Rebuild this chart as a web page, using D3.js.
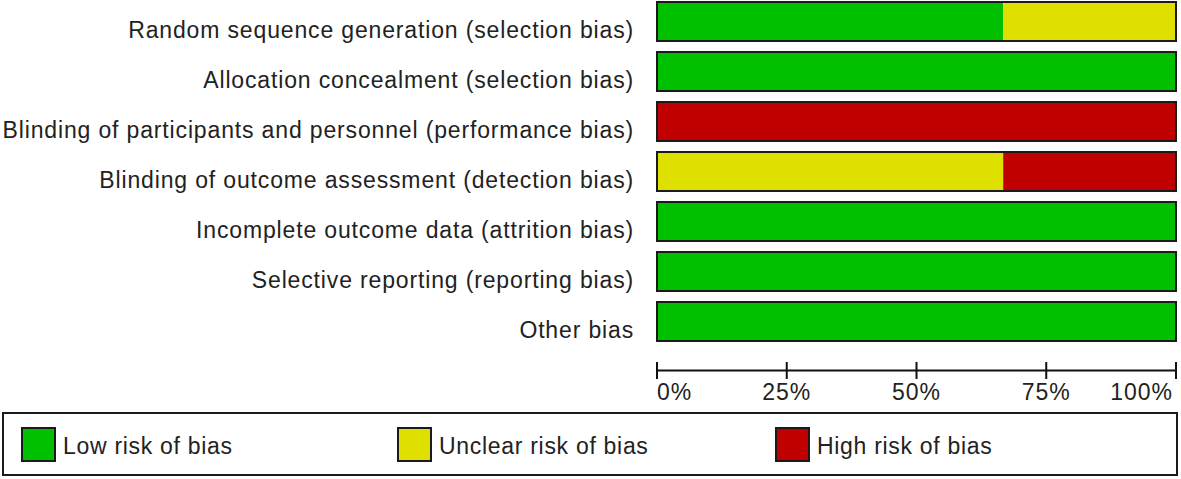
<!DOCTYPE html>
<html>
<head>
<meta charset="utf-8">
<script src="https://cdn.jsdelivr.net/npm/d3@7"></script>
<style>
  html, body { margin: 0; padding: 0; background: #fff; }
  svg { display: block; }
  text { font-family: "Liberation Sans", Arial, sans-serif; fill: #222; letter-spacing: 0.85px; }
</style>
</head>
<body>
<div id="chart"></div>
<script>
// ---- data ----
const domains = [
  "Random sequence generation (selection bias)",
  "Allocation concealment (selection bias)",
  "Blinding of participants and personnel (performance bias)",
  "Blinding of outcome assessment (detection bias)",
  "Incomplete outcome data (attrition bias)",
  "Selective reporting (reporting bias)",
  "Other bias"
];
const lowRisk     = [66.7, 100, 0, 0, 100, 100, 100];
const unclearRisk = [33.3, 0, 0, 66.7, 0, 0, 0];
const highRisk    = [0, 0, 100, 33.3, 0, 0, 0];
const riskKeys    = ["Low risk of bias", "Unclear risk of bias", "High risk of bias"];
const riskColors  = ["#00c000", "#e0e000", "#c00000"];
const tickValues  = [0, 25, 50, 75, 100];
const tickLabels  = ["0%", "25%", "50%", "75%", "100%"];

// ---- layout ----
const W = 1181, H = 479;
const svg = d3.select("#chart").append("svg").attr("width", W).attr("height", H);

const x = d3.scaleLinear().domain([0, 100]).range([657, 1176]);
const y = d3.scaleBand().domain(domains).range([2, 341]).paddingInner(0.22).paddingOuter(0);

const series = [lowRisk, unclearRisk, highRisk];
const rows = domains.map((d, i) => ({ domain: d, vals: series.map(s => s[i]) }));
const stack = d3.stack().keys([0, 1, 2]).value((r, k) => r.vals[k]);
const layers = stack(rows);

// category labels
svg.append("g").selectAll("text").data(domains).join("text")
  .attr("x", 634)
  .attr("y", d => y(d) + 36)
  .attr("text-anchor", "end")
  .attr("font-size", 23)
  .text(d => d);

// bar segments
const gBars = svg.append("g");
layers.forEach((layer, k) => {
  gBars.selectAll(null).data(layer.filter(s => s[1] - s[0] > 0)).join("rect")
    .attr("x", s => x(s[0]))
    .attr("y", s => y(s.data.domain))
    .attr("width", s => x(s[1]) - x(s[0]))
    .attr("height", y.bandwidth())
    .attr("fill", riskColors[k]);
});
// outlines
gBars.selectAll("rect.outline").data(domains).join("rect")
  .attr("class", "outline")
  .attr("x", x(0)).attr("y", d => y(d))
  .attr("width", x(100) - x(0)).attr("height", y.bandwidth())
  .attr("fill", "none").attr("stroke", "#1a1a1a").attr("stroke-width", 2);

// axis
const axisY = 370;
const gAxis = svg.append("g").attr("transform", `translate(0,${axisY})`);
gAxis.call(d3.axisBottom(x).tickValues(tickValues).tickSize(0).tickFormat(""));
gAxis.select(".domain").attr("stroke", "#111").attr("stroke-width", 2);
gAxis.selectAll(".tick").remove();
gAxis.selectAll("line.t").data(tickValues).join("line")
  .attr("class", "t")
  .attr("x1", d => x(d)).attr("x2", d => x(d))
  .attr("y1", -8).attr("y2", 9)
  .attr("stroke", "#111").attr("stroke-width", 2);
gAxis.selectAll("text.lbl").data(tickValues).join("text")
  .attr("class", "lbl")
  .attr("x", (d, i) => i === tickValues.length - 1 ? x(d) - 3 : x(d))
  .attr("y", 30)
  .attr("text-anchor", (d, i) => i === 0 ? "start" : (i === tickValues.length - 1 ? "end" : "middle"))
  .attr("font-size", 23)
  .style("letter-spacing", "1px")
  .text((d, i) => tickLabels[i]);

// legend
const legend = svg.append("g");
legend.append("rect")
  .attr("x", 3).attr("y", 413).attr("width", 1174).attr("height", 62)
  .attr("fill", "#fff").attr("stroke", "#1a1a1a").attr("stroke-width", 2);
const legX = [22, 398, 776];
const items = legend.selectAll("g.item").data(riskKeys).join("g")
  .attr("class", "item")
  .attr("transform", (d, i) => `translate(${legX[i]},428)`);
items.append("rect")
  .attr("width", 33).attr("height", 33)
  .attr("fill", (d, i) => riskColors[i])
  .attr("stroke", "#1a1a1a").attr("stroke-width", 2);
items.append("text")
  .attr("x", 41).attr("y", 26)
  .attr("font-size", 23)
  .style("letter-spacing", "0.7px")
  .text(d => d);
</script>
</body>
</html>
